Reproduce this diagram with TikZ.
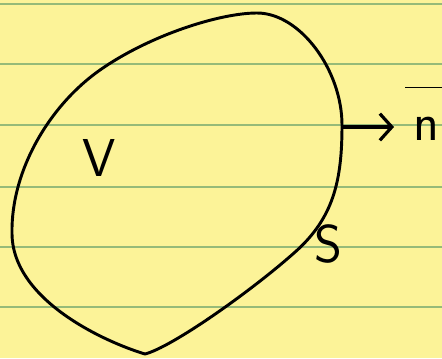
\documentclass[tikz,border=0pt]{standalone}
\usepackage{tikz}
\usetikzlibrary{arrows.meta}

\definecolor{paper}{RGB}{252,243,152}
\definecolor{ruling}{RGB}{150,186,120}

\begin{document}
\begin{tikzpicture}[
    x=0.75pt, y=-0.75pt,
    % Define ruled line style
    rule/.style={ruling, line width=1.3pt},
    % Define outline style
    outline/.style={black, line width=2.2pt, line join=round},
    % Define label style
    hand/.style={font=\sffamily\fontsize{40}{44}\selectfont, inner sep=0pt},
    % Define arrow style
    arrow/.style={-{Straight Barb[length=9pt, width=20pt]}, line width=2.4pt}
]

    % Paper
    \fill[paper] (0,0) rectangle (442,358);
    \useasboundingbox (0,0) rectangle (442,358);
    \foreach \y in {4,64,125,187,247,307}
        \draw[rule] (0,\y) -- (442,\y);

    % Surface S round the volume V
    \draw[outline] (257,13)
        .. controls (300,13) and (342,70) .. (342,125)
        .. controls (342,180) and (334,218) .. (294,253)
        .. controls (250,292) and (172,347) .. (145,354)
        .. controls (105,342) and (12,300) .. (12,233)
        .. controls (11,170) and (50,105) .. (100,70)
        .. controls (150,35) and (220,13) .. cycle;

    % Labels
    \node[hand] (vol) at (99,158) {V};
    \node[hand] (surf) at (328,244) {S};
    \node[hand, anchor=base west] (normal) at (405,140)
        {$\overline{\hspace{0.15em}\rule{0pt}{0.95em}\mbox{n}\hspace{0.3em}}$};

    % Normal arrow
    \coordinate (foot) at (342,127);
    \coordinate (tip) at (394,127);
    \draw[arrow] (foot) -- (tip);

\end{tikzpicture}
\end{document}
